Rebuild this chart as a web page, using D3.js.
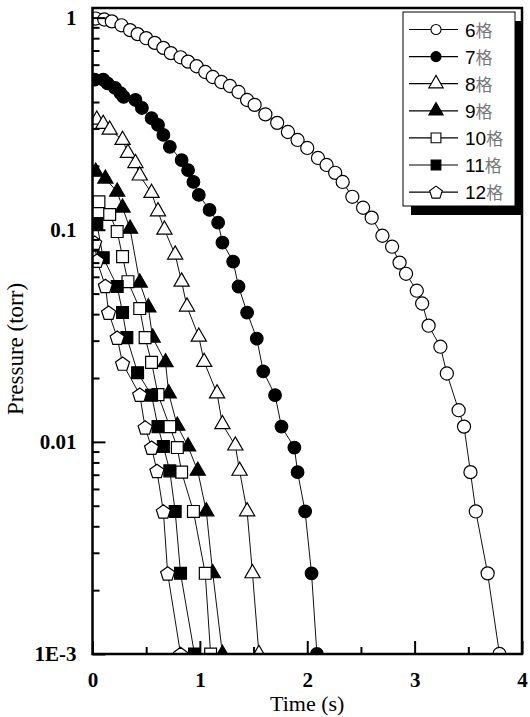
<!DOCTYPE html>
<html lang="zh">
<head>
<meta charset="UTF-8">
<title>Pressure vs Time</title>
<script src="https://d3js.org/d3.v7.min.js"></script>
<style>
  html, body { margin: 0; padding: 0; background: #fff; }
  svg { display: block; }
  .tick text { font-family: "Liberation Serif", "Times New Roman", serif; font-weight: bold; font-size: 21px; fill: #000; }
  .domain { display: none; }
</style>
</head>
<body>
<svg id="chart" width="530" height="717"></svg>
<script>
// ---- data ----
const seriesNames = ["6", "7", "8", "9", "10", "11", "12"];
const legendSuffix = "格";

const t6 = [0.03,0.11,0.18,0.27,0.35,0.42,0.50,0.58,0.66,0.73,0.82,0.89,0.97,1.05,1.12,1.20,1.28,1.36,1.44,1.51,1.61,1.72,1.82,1.91,2.00,2.10,2.18,2.26,2.33,2.42,2.52,2.60,2.70,2.79,2.86,2.92,3.02,3.07,3.13,3.24,3.30,3.41,3.46,3.52,3.57,3.68,3.79];
const p6 = [0.99,0.98,0.96,0.92,0.873,0.836,0.80,0.76,0.72,0.68,0.65,0.62,0.59,0.554,0.525,0.497,0.476,0.446,0.409,0.388,0.35,0.319,0.289,0.265,0.243,0.218,0.202,0.1855,0.168,0.143,0.127,0.114,0.0937,0.0832,0.070,0.062,0.0516,0.0449,0.0353,0.0281,0.0210,0.0141,0.0118,0.0072,0.0047,0.0024,0.001];

const t7 = [0.02,0.10,0.14,0.21,0.26,0.29,0.40,0.46,0.55,0.61,0.66,0.72,0.83,0.89,0.94,0.99,1.09,1.17,1.21,1.31,1.36,1.44,1.53,1.59,1.70,1.76,1.88,1.91,1.98,2.04,2.09];
const p7 = [0.51,0.51,0.49,0.466,0.441,0.423,0.409,0.375,0.336,0.312,0.28,0.246,0.213,0.191,0.168,0.146,0.124,0.108,0.0869,0.0708,0.054,0.0407,0.0307,0.0215,0.0166,0.0118,0.0094,0.0072,0.0047,0.0024,0.001];

const t8 = [0.04,0.10,0.16,0.28,0.33,0.40,0.44,0.55,0.61,0.67,0.77,0.83,0.88,0.99,1.04,1.16,1.21,1.33,1.37,1.44,1.49,1.55];
const p8 = [0.33,0.315,0.296,0.265,0.23,0.206,0.18,0.149,0.122,0.10,0.0763,0.0569,0.0434,0.0313,0.0238,0.0169,0.0121,0.0096,0.0073,0.0047,0.0024,0.001];

const t9 = [0.03,0.12,0.23,0.28,0.35,0.44,0.52,0.56,0.68,0.71,0.79,0.89,0.98,1.06,1.12,1.21];
const p9 = [0.1875,0.174,0.151,0.127,0.101,0.0563,0.043,0.031,0.0237,0.0169,0.0119,0.0095,0.0073,0.0047,0.0024,0.001];

const t10 = [0.06,0.16,0.23,0.28,0.33,0.44,0.49,0.55,0.61,0.72,0.79,0.83,0.94,1.05,1.10];
const p10 = [0.1355,0.118,0.098,0.0747,0.0569,0.0425,0.031,0.0237,0.0167,0.0118,0.0094,0.0072,0.0047,0.0024,0.001];

const t11 = [0.04,0.10,0.23,0.28,0.32,0.42,0.55,0.61,0.66,0.72,0.77,0.82,0.95];
const p11 = [0.107,0.0738,0.054,0.0407,0.031,0.0212,0.0166,0.0118,0.0095,0.0073,0.0047,0.0024,0.001];

const t12 = [0.02,0.04,0.12,0.15,0.23,0.28,0.44,0.49,0.55,0.60,0.66,0.70,0.82];
const p12 = [0.0869,0.0715,0.0544,0.0407,0.031,0.0234,0.0167,0.0117,0.0094,0.0073,0.0047,0.0024,0.001];

const xTicks = [0, 1, 2, 3, 4];
const xMinorTicks = [0.5, 1.5, 2.5, 3.5];
const yTicks = [1, 0.1, 0.01, 0.001];
const yTickLabels = ["1", "0.1", "0.01", "1E-3"];

const xTitle = "Time (s)";
const yTitle = "Pressure (torr)";

// ---- drawing ----
const svg = d3.select("#chart");
const mLeft = 92.5, mRight = 522, mTop = 8, mBottom = 654;

const x = d3.scaleLinear().domain([0, 4]).range([mLeft, mRight]);
const y = d3.scaleLog().domain([0.001, 1.11]).range([mBottom, mTop]);

// pentagon symbol
const symbolPentagon = {
  draw(ctx, size) {
    const r = Math.sqrt(size / 2.378);
    for (let i = 0; i < 5; i++) {
      const a = -Math.PI / 2 + i * 2 * Math.PI / 5;
      const px = r * Math.cos(a), py = r * Math.sin(a) + r * 0.1;
      if (i === 0) ctx.moveTo(px, py); else ctx.lineTo(px, py);
    }
    ctx.closePath();
  }
};

const series = [
  { t: t6, p: p6, type: d3.symbolCircle, size: 135, fill: "#fff", lsize: 80 },
  { t: t7, p: p7, type: d3.symbolCircle, size: 125, fill: "#000", lsize: 80 },
  { t: t8, p: p8, type: d3.symbolTriangle, size: 100, fill: "#fff", lsize: 90 },
  { t: t9, p: p9, type: d3.symbolTriangle, size: 100, fill: "#000", lsize: 90 },
  { t: t10, p: p10, type: d3.symbolSquare, size: 140, fill: "#fff", lsize: 95 },
  { t: t11, p: p11, type: d3.symbolSquare, size: 140, fill: "#000", lsize: 95 },
  { t: t12, p: p12, type: symbolPentagon, size: 130, fill: "#fff", lsize: 105 }
];

svg.append("defs").append("clipPath").attr("id", "plotClip")
  .append("rect").attr("x", mLeft).attr("y", mTop)
  .attr("width", mRight - mLeft).attr("height", mBottom - mTop);

const plot = svg.append("g").attr("clip-path", "url(#plotClip)");

const line = d3.line().x(d => x(d[0])).y(d => y(d[1]));

series.forEach(s => {
  const pts = s.t.map((tv, i) => [tv, s.p[i]]);
  plot.append("path").datum(pts)
    .attr("d", line)
    .attr("fill", "none")
    .attr("stroke", "#111")
    .attr("stroke-width", 1);
});

series.forEach(s => {
  const pts = s.t.map((tv, i) => [tv, s.p[i]]);
  plot.selectAll(null).data(pts).enter().append("path")
    .attr("transform", d => `translate(${x(d[0])},${y(d[1])})`)
    .attr("d", d3.symbol().type(s.type).size(s.size))
    .attr("fill", s.fill)
    .attr("stroke", "#000")
    .attr("stroke-width", 1.2);
});

// axes (ticks point inward)
const minorY = [];
[0.001, 0.01, 0.1].forEach(dec => { for (let k = 2; k <= 9; k++) minorY.push(dec * k); });

svg.append("g").attr("transform", `translate(${mLeft},0)`)
  .call(d3.axisLeft(y).tickValues(minorY).tickSize(-7).tickFormat(""))
  .selectAll("line").attr("stroke", "#000").attr("stroke-width", 2);

const yAx = svg.append("g").attr("transform", `translate(${mLeft},0)`)
  .call(d3.axisLeft(y).tickValues(yTicks).tickSize(-13).tickPadding(16)
    .tickFormat((d, i) => yTickLabels[i]));
yAx.selectAll("line").attr("stroke", "#000").attr("stroke-width", 2);

svg.append("g").attr("transform", `translate(0,${mBottom})`)
  .call(d3.axisBottom(x).tickValues(xMinorTicks).tickSize(-7).tickFormat(""))
  .selectAll("line").attr("stroke", "#000").attr("stroke-width", 2);

const xAx = svg.append("g").attr("transform", `translate(0,${mBottom})`)
  .call(d3.axisBottom(x).tickValues(xTicks).tickSize(-13).tickPadding(18)
    .tickFormat(d3.format("d")));
xAx.selectAll("line").attr("stroke", "#000").attr("stroke-width", 2);

// frame
svg.append("rect")
  .attr("x", mLeft).attr("y", mTop)
  .attr("width", mRight - mLeft).attr("height", mBottom - mTop)
  .attr("fill", "none").attr("stroke", "#000").attr("stroke-width", 2.5);

// axis titles
svg.append("text")
  .attr("x", (mLeft + mRight) / 2).attr("y", 711)
  .attr("text-anchor", "middle")
  .style("font-family", "'Liberation Serif', 'Times New Roman', serif")
  .style("font-size", "22px")
  .text(xTitle);

svg.append("text")
  .attr("transform", "translate(23,349) rotate(-90)")
  .attr("text-anchor", "middle")
  .style("font-family", "'Liberation Serif', 'Times New Roman', serif")
  .style("font-size", "23px")
  .text(yTitle);

// legend
const lgX = 403, lgY = 12, lgW = 112, lgH = 194;
svg.append("rect").attr("x", lgX + 8).attr("y", lgY + 9)
  .attr("width", lgW).attr("height", lgH).attr("fill", "#000");
svg.append("rect").attr("x", lgX).attr("y", lgY)
  .attr("width", lgW).attr("height", lgH)
  .attr("fill", "#fff").attr("stroke", "#000").attr("stroke-width", 1);

const lg = svg.append("g");
series.forEach((s, i) => {
  const cy = lgY + 17.5 + i * 27.1;
  lg.append("line").attr("x1", lgX + 6).attr("x2", lgX + 55)
    .attr("y1", cy).attr("y2", cy).attr("stroke", "#000").attr("stroke-width", 1.2);
  lg.append("path")
    .attr("transform", `translate(${lgX + 33},${cy})`)
    .attr("d", d3.symbol().type(s.type).size(s.lsize))
    .attr("fill", s.fill).attr("stroke", "#000").attr("stroke-width", 1.1);
  const tx = lg.append("text").attr("x", lgX + 62).attr("y", cy + 7)
    .style("font-family", "'Liberation Sans', Arial, sans-serif")
    .style("font-size", "19px");
  tx.append("tspan").attr("fill", "#000").text(seriesNames[i]);
  tx.append("tspan").attr("fill", "#777")
    .style("font-family", "'Noto Sans CJK SC', sans-serif")
    .style("font-size", "17px").text(legendSuffix);
});
</script>
</body>
</html>
